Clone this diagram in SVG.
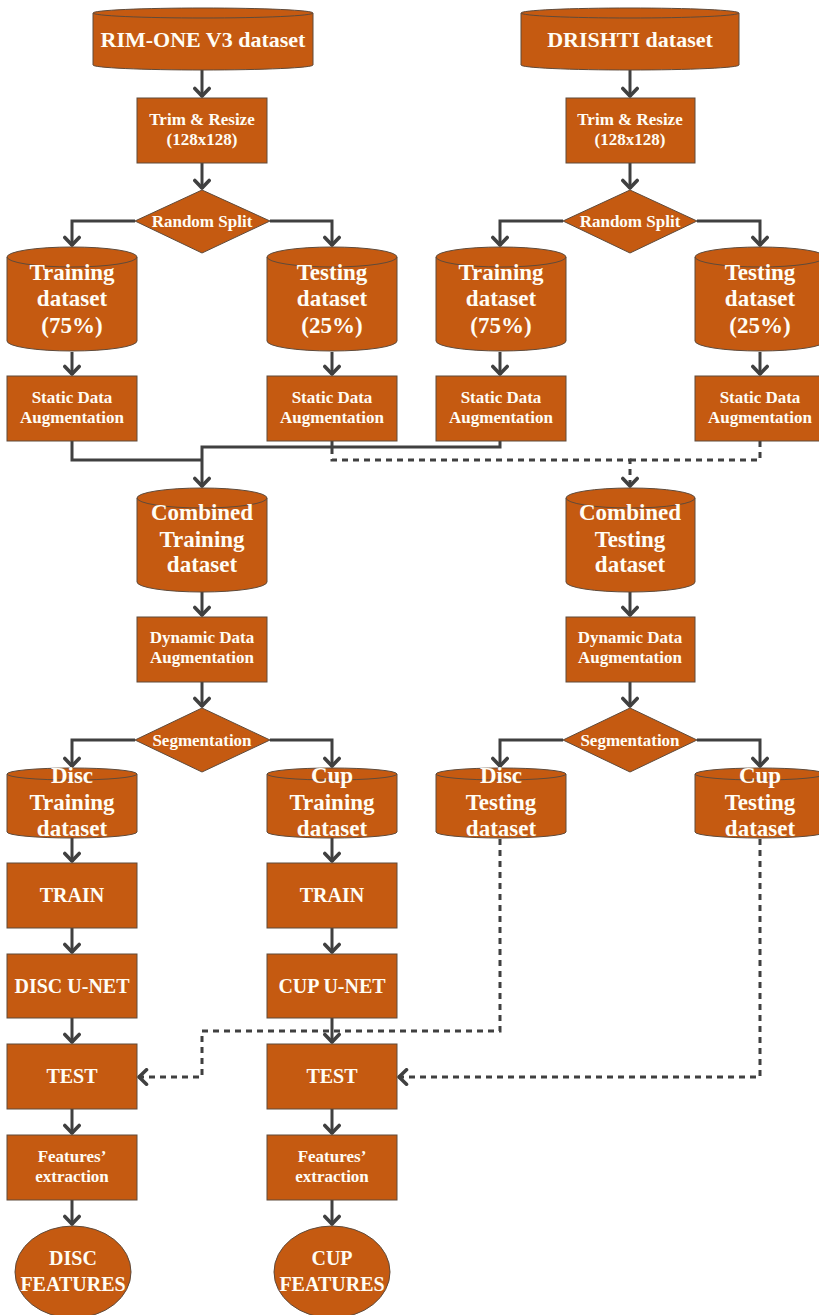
<svg xmlns="http://www.w3.org/2000/svg" width="819" height="1315" viewBox="0 0 819 1315">
<defs>
<marker id="ah" markerUnits="userSpaceOnUse" markerWidth="18" markerHeight="18" viewBox="0 0 18 18" refX="14" refY="9" orient="auto">
<path d="M5.5,1.8 L13,9 L5.5,16.2" fill="none" stroke="#404040" stroke-width="3.6" stroke-linecap="round" stroke-linejoin="round"/>
</marker>
</defs>
<style>
.s{fill:#C55A11;stroke:#5f4a3a;stroke-width:1}
.e{fill:none;stroke:#5f4a3a;stroke-width:1}
.t{fill:#FFFDF5;font-family:"Liberation Serif","Times New Roman",serif;font-weight:bold;text-anchor:middle}
.t17{font-size:17px}
.t20{font-size:20px}
.t22{font-size:22px}
.t23{font-size:23px}
.c{fill:none;stroke:#404040;stroke-width:3;stroke-linejoin:miter}
.a{marker-end:url(#ah)}
.d{stroke-dasharray:6 5}
</style>
<rect width="819" height="1315" fill="#FFFFFF"/>

<g id="connectors">
<polyline class="c a" points="202,70 202,97"/>
<polyline class="c a" points="202,163 202,189"/>
<polyline class="c a" points="135,221 72,221 72,246"/>
<polyline class="c a" points="270,221 332,221 332,246"/>
<polyline class="c a" points="72,352 72,375"/>
<polyline class="c a" points="332,352 332,375"/>
<polyline class="c a" points="630,70 630,97"/>
<polyline class="c a" points="630,163 630,189"/>
<polyline class="c a" points="563,221 500,221 500,246"/>
<polyline class="c a" points="697,221 760,221 760,246"/>
<polyline class="c a" points="500,352 500,375"/>
<polyline class="c a" points="760,352 760,375"/>
<polyline class="c" points="72,441 72,460 202,460"/>
<polyline class="c a" points="500,441 500,447 202,447 202,487"/>
<polyline class="c" points="332,441 332,447"/>
<polyline class="c d a" points="332,448 332,460 630,460 630,487"/>
<polyline class="c d" points="760,441 760,460 630,460"/>
<polyline class="c a" points="202,592 202,616"/>
<polyline class="c a" points="202,682 202,707"/>
<polyline class="c a" points="135,740 72,740 72,767"/>
<polyline class="c a" points="270,740 332,740 332,767"/>
<polyline class="c a" points="630,592 630,616"/>
<polyline class="c a" points="630,682 630,707"/>
<polyline class="c a" points="563,740 500,740 500,767"/>
<polyline class="c a" points="697,740 760,740 760,767"/>
<polyline class="c a" points="72,838 72,862"/>
<polyline class="c a" points="332,838 332,862"/>
<polyline class="c a" points="72,928 72,953"/>
<polyline class="c a" points="332,928 332,953"/>
<polyline class="c a" points="72,1018 72,1043"/>
<polyline class="c a" points="332,1018 332,1043"/>
<polyline class="c a" points="72,1109 72,1134"/>
<polyline class="c a" points="332,1109 332,1134"/>
<polyline class="c a" points="72,1200 72,1225"/>
<polyline class="c a" points="332,1200 332,1225"/>
<polyline class="c d a" points="500,839 500,1031 202,1031 202,1077 138,1077"/>
<polyline class="c d a" points="760,839 760,1077 398,1077"/>
</g>

<g id="rimone">
<path class="s" d="M93,13 A110,5 0 0 1 313,13 V65 A110,5 0 0 1 93,65 Z"/>
<path class="e" d="M93,13 A110,5 0 0 0 313,13"/>
<text class="t t22" x="203" y="47">RIM-ONE V3 dataset</text>
</g>
<g id="drishti">
<path class="s" d="M521,13 A109,5 0 0 1 739,13 V65 A109,5 0 0 1 521,65 Z"/>
<path class="e" d="M521,13 A109,5 0 0 0 739,13"/>
<text class="t t22" x="630" y="47">DRISHTI dataset</text>
</g>

<g id="trim1">
<rect class="s" x="137" y="98" width="130" height="65"/>
<text class="t t17" x="202" y="125">Trim &amp; Resize</text>
<text class="t t17" x="202" y="145">(128x128)</text>
</g>
<g id="trim2">
<rect class="s" x="566" y="98" width="129" height="65"/>
<text class="t t17" x="630" y="125">Trim &amp; Resize</text>
<text class="t t17" x="630" y="145">(128x128)</text>
</g>

<g id="split1">
<polygon class="s" points="202,190 270,221 202,253 135,221"/>
<text class="t t17" x="202" y="227">Random Split</text>
</g>
<g id="split2">
<polygon class="s" points="630,190 697,221 630,253 563,221"/>
<text class="t t17" x="630" y="227">Random Split</text>
</g>

<g id="train1">
<path class="s" d="M7,257 A65,10 0 0 1 137,257 V341 A65,10 0 0 1 7,341 Z"/>
<path class="e" d="M7,257 A65,10 0 0 0 137,257"/>
<text class="t t23" x="72" y="280">Training</text>
<text class="t t23" x="72" y="306">dataset</text>
<text class="t t23" x="72" y="333">(75%)</text>
</g>
<g id="test1">
<path class="s" d="M267,257 A65,10 0 0 1 397,257 V341 A65,10 0 0 1 267,341 Z"/>
<path class="e" d="M267,257 A65,10 0 0 0 397,257"/>
<text class="t t23" x="332" y="280">Testing</text>
<text class="t t23" x="332" y="306">dataset</text>
<text class="t t23" x="332" y="333">(25%)</text>
</g>
<g id="train2">
<path class="s" d="M436,257 A65,10 0 0 1 566,257 V341 A65,10 0 0 1 436,341 Z"/>
<path class="e" d="M436,257 A65,10 0 0 0 566,257"/>
<text class="t t23" x="501" y="280">Training</text>
<text class="t t23" x="501" y="306">dataset</text>
<text class="t t23" x="501" y="333">(75%)</text>
</g>
<g id="test2">
<path class="s" d="M695,257 A65,10 0 0 1 825,257 V341 A65,10 0 0 1 695,341 Z"/>
<path class="e" d="M695,257 A65,10 0 0 0 825,257"/>
<text class="t t23" x="760" y="280">Testing</text>
<text class="t t23" x="760" y="306">dataset</text>
<text class="t t23" x="760" y="333">(25%)</text>
</g>

<g id="static1">
<rect class="s" x="7" y="376" width="130" height="65"/>
<text class="t t17" x="72" y="403">Static Data</text>
<text class="t t17" x="72" y="423">Augmentation</text>
</g>
<g id="static2">
<rect class="s" x="267" y="376" width="130" height="65"/>
<text class="t t17" x="332" y="403">Static Data</text>
<text class="t t17" x="332" y="423">Augmentation</text>
</g>
<g id="static3">
<rect class="s" x="436" y="376" width="130" height="65"/>
<text class="t t17" x="501" y="403">Static Data</text>
<text class="t t17" x="501" y="423">Augmentation</text>
</g>
<g id="static4">
<rect class="s" x="695" y="376" width="130" height="65"/>
<text class="t t17" x="760" y="403">Static Data</text>
<text class="t t17" x="760" y="423">Augmentation</text>
</g>

<g id="combtrain">
<path class="s" d="M137,498 A65,10 0 0 1 267,498 V582 A65,10 0 0 1 137,582 Z"/>
<path class="e" d="M137,498 A65,10 0 0 0 267,498"/>
<text class="t t23" x="202" y="520">Combined</text>
<text class="t t23" x="202" y="547">Training</text>
<text class="t t23" x="202" y="572">dataset</text>
</g>
<g id="combtest">
<path class="s" d="M566,498 A64.5,10 0 0 1 695,498 V582 A64.5,10 0 0 1 566,582 Z"/>
<path class="e" d="M566,498 A64.5,10 0 0 0 695,498"/>
<text class="t t23" x="630" y="520">Combined</text>
<text class="t t23" x="630" y="547">Testing</text>
<text class="t t23" x="630" y="572">dataset</text>
</g>

<g id="dyn1">
<rect class="s" x="137" y="617" width="130" height="65"/>
<text class="t t17" x="202" y="643">Dynamic Data</text>
<text class="t t17" x="202" y="663">Augmentation</text>
</g>
<g id="dyn2">
<rect class="s" x="566" y="617" width="129" height="65"/>
<text class="t t17" x="630" y="643">Dynamic Data</text>
<text class="t t17" x="630" y="663">Augmentation</text>
</g>

<g id="seg1">
<polygon class="s" points="202,708 270,740 202,772 135,740"/>
<text class="t t17" x="202" y="746">Segmentation</text>
</g>
<g id="seg2">
<polygon class="s" points="630,708 697,740 630,772 563,740"/>
<text class="t t17" x="630" y="746">Segmentation</text>
</g>

<g id="disctrain">
<path class="s" d="M7,774 A65,6 0 0 1 137,774 V832 A65,6 0 0 1 7,832 Z"/>
<path class="e" d="M7,774 A65,6 0 0 0 137,774"/>
<text class="t t23" x="72" y="783">Disc</text>
<text class="t t23" x="72" y="810">Training</text>
<text class="t t23" x="72" y="836">dataset</text>
</g>
<g id="cuptrain">
<path class="s" d="M267,774 A65,6 0 0 1 397,774 V832 A65,6 0 0 1 267,832 Z"/>
<path class="e" d="M267,774 A65,6 0 0 0 397,774"/>
<text class="t t23" x="332" y="783">Cup</text>
<text class="t t23" x="332" y="810">Training</text>
<text class="t t23" x="332" y="836">dataset</text>
</g>
<g id="disctest">
<path class="s" d="M436,774 A65,6 0 0 1 566,774 V832 A65,6 0 0 1 436,832 Z"/>
<path class="e" d="M436,774 A65,6 0 0 0 566,774"/>
<text class="t t23" x="501" y="783">Disc</text>
<text class="t t23" x="501" y="810">Testing</text>
<text class="t t23" x="501" y="836">dataset</text>
</g>
<g id="cuptest">
<path class="s" d="M695,774 A65,6 0 0 1 825,774 V832 A65,6 0 0 1 695,832 Z"/>
<path class="e" d="M695,774 A65,6 0 0 0 825,774"/>
<text class="t t23" x="760" y="783">Cup</text>
<text class="t t23" x="760" y="810">Testing</text>
<text class="t t23" x="760" y="836">dataset</text>
</g>

<g id="traind">
<rect class="s" x="7" y="863" width="130" height="65"/>
<text class="t t20" x="72" y="902">TRAIN</text>
</g>
<g id="trainc">
<rect class="s" x="267" y="863" width="130" height="65"/>
<text class="t t20" x="332" y="902">TRAIN</text>
</g>
<g id="unetd">
<rect class="s" x="7" y="954" width="130" height="64"/>
<text class="t t20" x="72" y="993">DISC U-NET</text>
</g>
<g id="unetc">
<rect class="s" x="267" y="954" width="130" height="64"/>
<text class="t t20" x="332" y="993">CUP U-NET</text>
</g>
<g id="testd">
<rect class="s" x="7" y="1044" width="130" height="65"/>
<text class="t t20" x="72" y="1083">TEST</text>
</g>
<g id="testc">
<rect class="s" x="267" y="1044" width="130" height="65"/>
<text class="t t20" x="332" y="1083">TEST</text>
</g>
<g id="featd">
<rect class="s" x="7" y="1135" width="130" height="65"/>
<text class="t t17" x="72" y="1162">Features’</text>
<text class="t t17" x="72" y="1182">extraction</text>
</g>
<g id="featc">
<rect class="s" x="267" y="1135" width="130" height="65"/>
<text class="t t17" x="332" y="1162">Features’</text>
<text class="t t17" x="332" y="1182">extraction</text>
</g>
<g id="discfeat">
<ellipse class="s" cx="73" cy="1272" rx="58" ry="46"/>
<text class="t t20" x="73" y="1265">DISC</text>
<text class="t t20" x="73" y="1291">FEATURES</text>
</g>
<g id="cupfeat">
<ellipse class="s" cx="332" cy="1272" rx="58" ry="46"/>
<text class="t t20" x="332" y="1265">CUP</text>
<text class="t t20" x="332" y="1291">FEATURES</text>
</g>
</svg>
